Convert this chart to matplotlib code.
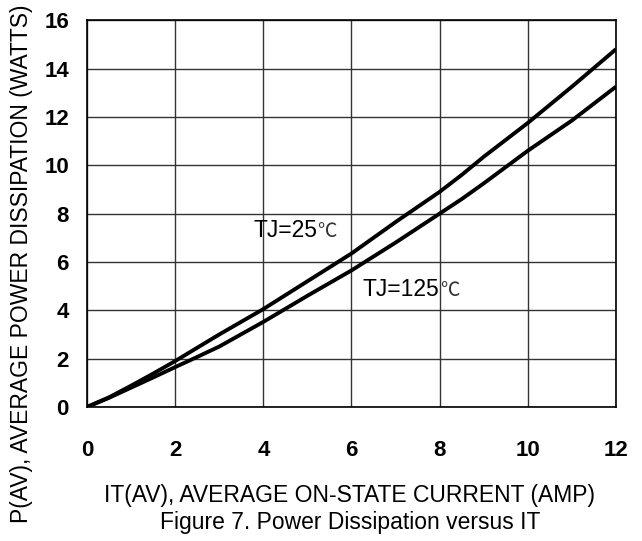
import numpy as np
import matplotlib.pyplot as plt

plt.rcParams['font.family'] = ['Liberation Sans', 'DejaVu Sans']

current = [0, 0.5, 1, 1.5, 2, 2.5, 3, 4, 5, 6, 7, 8, 8.5, 9, 10, 11, 12]
p_25 = [0, 0.4, 0.88, 1.38, 1.9, 2.45, 3.0, 4.05, 5.2, 6.35, 7.65, 8.9, 9.6, 10.35, 11.75, 13.25, 14.8]
p_125 = [0, 0.38, 0.8, 1.22, 1.65, 2.07, 2.5, 3.52, 4.6, 5.65, 6.8, 8.0, 8.6, 9.25, 10.6, 11.85, 13.25]

xticks = [0, 2, 4, 6, 8, 10, 12]
yticks = [0, 2, 4, 6, 8, 10, 12, 14, 16]

fig = plt.figure(figsize=(6.42, 5.41), dpi=100)
ax = fig.add_axes([0.1355, 0.2477, 0.824, 0.715])

ax.plot(current, p_25, color='black', lw=2.8, solid_capstyle='butt')
ax.plot(current, p_125, color='black', lw=2.8, solid_capstyle='butt')

ax.set_xlim(0, 12)
ax.set_ylim(0, 16)
ax.set_xticks(xticks)
ax.set_yticks(yticks)
ax.set_xticklabels([str(t) for t in xticks], fontsize=16, fontweight='bold')
ax.set_yticklabels([str(t) for t in yticks], fontsize=16, fontweight='bold')
ax.tick_params(axis='x', length=0, pad=24)
ax.tick_params(axis='y', length=0, pad=13)
ax.grid(True, color='#333333', lw=1.0)
for s in ax.spines.values():
    s.set_color('black')
    s.set_linewidth(1.2)

cjk = ['Noto Sans CJK SC', 'DejaVu Sans']
t25 = ax.text(3.77, 7.3, 'TJ=25', fontsize=16.5, va='center', ha='left')
ax.annotate('℃', xy=(1, 0.0), xycoords=t25, fontsize=14, va='bottom', ha='left',
            family=cjk, color='#333333', fontweight='light')
t125 = ax.text(6.26, 4.85, 'TJ=125', fontsize=16.5, va='center', ha='left')
ax.annotate('℃', xy=(1, 0.0), xycoords=t125, fontsize=14, va='bottom', ha='left',
            family=cjk, color='#333333', fontweight='light')

fig.text(0.033, 0.033, 'P(AV), AVERAGE POWER DISSIPATION (WATTS)', rotation=90,
         fontsize=16.5, ha='center', va='bottom')
fig.text(0.545, 0.085, 'IT(AV), AVERAGE ON-STATE CURRENT (AMP)', fontsize=16.5,
         ha='center', va='center')
fig.text(0.545, 0.035, 'Figure 7. Power Dissipation versus IT', fontsize=16.5,
         ha='center', va='center')

fig.savefig('out.png', dpi=100)
